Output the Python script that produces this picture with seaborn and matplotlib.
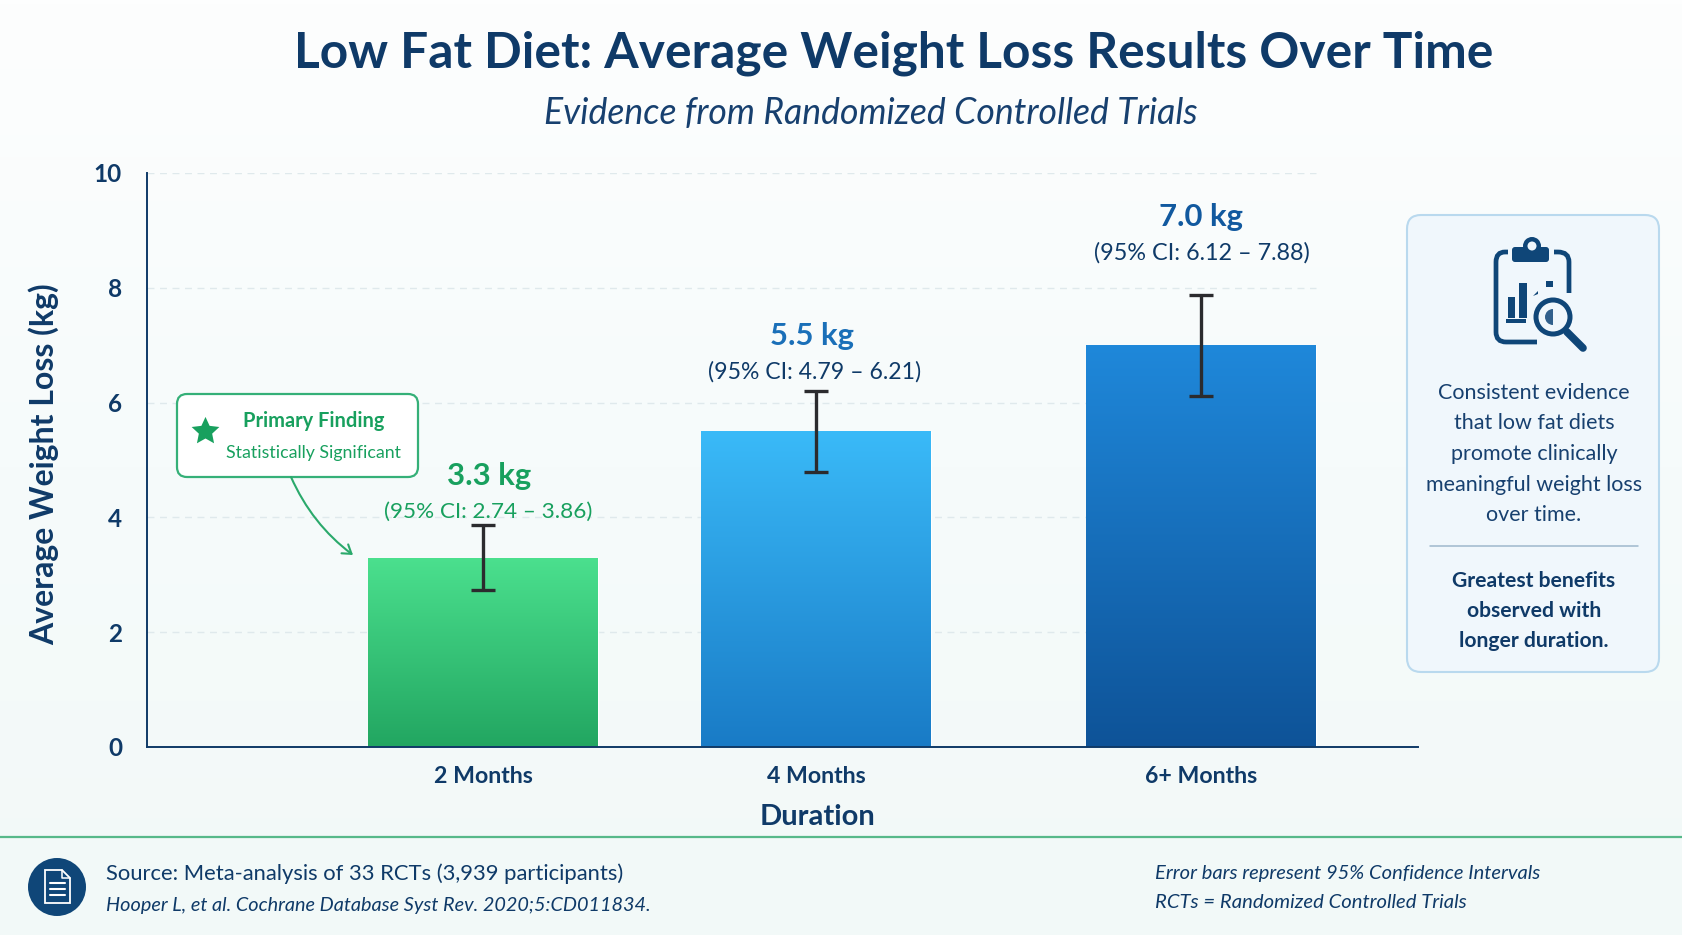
import numpy as np
import pandas as pd
import matplotlib
matplotlib.use("Agg")
import matplotlib.pyplot as plt
from matplotlib.colors import LinearSegmentedColormap
from matplotlib.patches import FancyBboxPatch, Circle, Rectangle, Wedge, PathPatch, FancyArrowPatch, Polygon
from matplotlib.path import Path
import seaborn as sns

durations = ["2 Months", "4 Months", "6+ Months"]
mean_loss = [3.3, 5.5, 7.0]
ci_low = [2.74, 4.79, 6.12]
ci_high = [3.86, 6.21, 7.88]
value_labels = ["3.3 kg", "5.5 kg", "7.0 kg"]
ci_labels = ["(95% CI: 2.74 – 3.86)", "(95% CI: 4.79 – 6.21)", "(95% CI: 6.12 – 7.88)"]
y_ticks = [0, 2, 4, 6, 8, 10]

W, H = 1683, 935
NAVY = "#0f3a68"
GREEN = "#18a05e"

sns.set_theme(style="white")
plt.rcParams["font.family"] = ["Lato", "DejaVu Sans"]

fig = plt.figure(figsize=(W / 100, H / 100), dpi=100)

# Soft page wash behind everything
bg = fig.add_axes([0, 0, 1, 1], zorder=0)
bg.axis("off")
wash = LinearSegmentedColormap.from_list("wash", ["#fdfefe", "#f6fbfb", "#f2f9f8"])
bg.imshow(np.linspace(0, 1, 256)[:, None], cmap=wash, aspect="auto", extent=[0, 1, 0, 1])

# Main bar chart
L, R, T, B = 147, 1418, 173, 747
ax = fig.add_axes([L / W, 1 - B / H, (R - L) / W, (B - T) / H], zorder=1)
ax.patch.set_alpha(0)
slots = np.array([0, 1, 2.156])
frame = pd.DataFrame({"slot": slots, "loss": mean_loss})
sns.barplot(data=frame, x="slot", y="loss", native_scale=True, width=0.69,
            color="#1a7cc8", errorbar=None, ax=ax, zorder=2)

ramps = [("#4be08e", "#22a661"), ("#3abaf8", "#197bc6"), ("#1f88da", "#0e5398")]
for patch, (top, bottom) in zip(ax.patches, ramps):
    x0, y0 = patch.get_x(), patch.get_y()
    w, h = patch.get_width(), patch.get_height()
    cmap = LinearSegmentedColormap.from_list("ramp", [top, bottom])
    im = ax.imshow(np.linspace(0, 1, 256)[:, None], cmap=cmap, aspect="auto",
                   extent=[x0, x0 + w, y0, y0 + h], zorder=2.5)
    im.set_clip_path(patch)

grid_end = ax.patches[-1].get_x() + ax.patches[-1].get_width()
ax.hlines(y_ticks[1:], -1.009, grid_end, colors="#dfe9ec", linestyles=(0, (5, 4)), lw=1, zorder=1)

ax.errorbar(slots, mean_loss,
            yerr=[np.array(mean_loss) - np.array(ci_low), np.array(ci_high) - np.array(mean_loss)],
            fmt="none", ecolor="#2b2b2e", elinewidth=2.4, capsize=8.5, capthick=2.4, zorder=4)

ax.set_xlim(-1.009, 2.808)
ax.set_ylim(0, 10)
ax.set_xticks(slots, durations)
ax.set_yticks(y_ticks)
ax.tick_params(axis="y", length=8, width=1.2, color=NAVY, labelsize=17.5, labelcolor=NAVY, pad=10)
ax.tick_params(axis="x", length=0, labelsize=16.7, labelcolor=NAVY, pad=14)
for lab in ax.get_xticklabels() + ax.get_yticklabels():
    lab.set_fontweight("bold")
for side in ("top", "right"):
    ax.spines[side].set_visible(False)
for side in ("left", "bottom"):
    ax.spines[side].set_color(NAVY)
    ax.spines[side].set_linewidth(1.4)
ax.set_xlabel("")
ax.set_ylabel("")

# Overlay in pixel units for annotations and panels
ov = fig.add_axes([0, 0, 1, 1], zorder=2)
ov.set_xlim(0, W)
ov.set_ylim(H, 0)
ov.axis("off")


def label(x, y, s, size, color=NAVY, weight="normal", style="normal", ha="center", rot=0):
    ov.text(x, y, s, fontsize=size, color=color, fontweight=weight, fontstyle=style,
            ha=ha, va="center", rotation=rot)


label(894, 53, "Low Fat Diet: Average Weight Loss Results Over Time", 35.7, weight="bold")
label(871, 114, "Evidence from Randomized Controlled Trials", 25.7, color="#17406f", style="italic")
label(44, 464, "Average Weight Loss (kg)", 23, weight="bold", rot=90)
label(818, 817, "Duration", 21, weight="bold")

# Value and interval labels above each bar
val_pos = [(489, 476), (812, 336), (1201, 217)]
ci_pos = [(488, 512), (815, 372), (1202, 253)]
val_cols = [GREEN, "#1a6fb8", "#11599f"]
ci_cols = [GREEN, NAVY, NAVY]
ci_sizes = [16.2, 16.6, 16.8]
for (vx, vy), (cx, cy), vt, ct, vc, cc, cs in zip(val_pos, ci_pos, value_labels, ci_labels,
                                                   val_cols, ci_cols, ci_sizes):
    label(vx, vy, vt, 22.3, color=vc, weight="bold")
    label(cx, cy, ct, cs, color=cc)

# Callout
ov.add_patch(FancyBboxPatch((185, 402), 225, 67, boxstyle="round,pad=8,rounding_size=10",
                            fc="#ffffff", ec="#35b078", lw=1.6, zorder=3))
ov.plot([205], [431], marker=Path.unit_regular_star(5, innerCircle=0.48), ms=21, color=GREEN, mec="none", zorder=4)
label(314, 421, "Primary Finding", 14.4, color=GREEN, weight="bold")
label(314, 453, "Statistically Significant", 12.8, color=GREEN)
ov.add_patch(FancyArrowPatch((291, 477), (353, 555), connectionstyle="arc3,rad=0.13",
                             arrowstyle="->,head_length=6,head_width=4", color="#2aa96b", lw=1.5,
                             shrinkA=0, shrinkB=0, zorder=3))

# Side panel
ov.add_patch(FancyBboxPatch((1419, 227), 228, 433, boxstyle="round,pad=12,rounding_size=14",
                            fc="#f0f7fc", ec="#b9d9ee", lw=1.5, zorder=1))
ic = "#0f4678"
body = Path([(1569, 293), (1569, 262), (1569, 252), (1558, 252), (1554, 252)],
            [Path.MOVETO, Path.LINETO, Path.CURVE3, Path.CURVE3, Path.LINETO])
ov.add_patch(PathPatch(body, fc="none", ec=ic, lw=3.4, capstyle="butt", zorder=3))
body2 = Path([(1508, 252), (1505, 252), (1496, 252), (1496, 262), (1496, 332),
              (1496, 342), (1506, 342), (1537, 342)],
             [Path.MOVETO, Path.LINETO, Path.CURVE3, Path.CURVE3, Path.LINETO,
              Path.CURVE3, Path.CURVE3, Path.LINETO])
ov.add_patch(PathPatch(body2, fc="none", ec=ic, lw=3.4, capstyle="butt", zorder=3))
ov.add_patch(Circle((1532, 246), 9, fc=ic, ec="none", zorder=3))
ov.add_patch(FancyBboxPatch((1515, 250), 31, 9, boxstyle="round,pad=3,rounding_size=3", fc=ic, ec="none", zorder=3))
ov.add_patch(Circle((1532, 246), 4.5, fc="#f0f7fc", ec="none", zorder=4))
ov.add_patch(Rectangle((1508, 297), 7, 21, fc=ic, ec="none", zorder=3))
ov.add_patch(Rectangle((1519, 283), 8, 35, fc=ic, ec="none", zorder=3))
ov.add_patch(Rectangle((1506, 319), 20, 4, fc=ic, ec="none", zorder=3))
ov.add_patch(Rectangle((1546, 281), 7, 6, fc=ic, ec="none", zorder=3))
ov.add_patch(Polygon([(1533, 296), (1538, 291), (1538, 294)], fc=ic, ec="none", zorder=3))
ov.add_patch(Circle((1553, 317), 19, fc="#f0f7fc", ec="none", zorder=3.5))
ov.add_patch(Circle((1553, 317), 17, fc="none", ec=ic, lw=3.6, zorder=4))
ov.add_patch(Wedge((1553, 317), 8, 90, 270, fc=ic, ec="none", alpha=0.85, zorder=4))
ov.plot([1567, 1583], [332, 348], color=ic, lw=5.5, solid_capstyle="round", zorder=4)

for y, s in zip([393, 423, 454, 485, 515],
                ["Consistent evidence", "that low fat diets", "promote clinically",
                 "meaningful weight loss", "over time."]):
    label(1534, y, s, 15.5, color="#17406f", rot=0)
ov.plot([1430, 1638], [546, 546], color="#9fb8cc", lw=1.1, zorder=2)
for y, s in zip([581, 611, 641], ["Greatest benefits", "observed with", "longer duration."]):
    label(1534, y, s, 15.2, weight="bold")

# Footer
ov.plot([0, W], [837, 837], color="#57b98a", lw=1.6)
ov.add_patch(Circle((57, 887), 29, fc=ic, ec="none", zorder=3))
doc = Path([(45, 870), (62, 870), (70, 878), (70, 903), (45, 903), (45, 870)], closed=True)
ov.add_patch(PathPatch(doc, fc="none", ec="white", lw=1.3, zorder=4))
ov.plot([62, 62, 70], [870, 878, 878], color="white", lw=1.1, zorder=4)
for y in (883, 889, 895):
    ov.plot([50, 65], [y, y], color="white", lw=1.5, zorder=4)
label(106, 874, "Source: Meta-analysis of 33 RCTs (3,939 participants)", 15.8, color=NAVY, ha="left")
label(106, 905, "Hooper L, et al. Cochrane Database Syst Rev. 2020;5:CD011834.", 14.3, color=NAVY, style="italic", ha="left")
label(1155, 874, "Error bars represent 95% Confidence Intervals", 14.5, color=NAVY, style="italic", ha="left")
label(1155, 903, "RCTs = Randomized Controlled Trials", 14.6, color=NAVY, style="italic", ha="left")

fig.savefig("out.png", dpi=100)
